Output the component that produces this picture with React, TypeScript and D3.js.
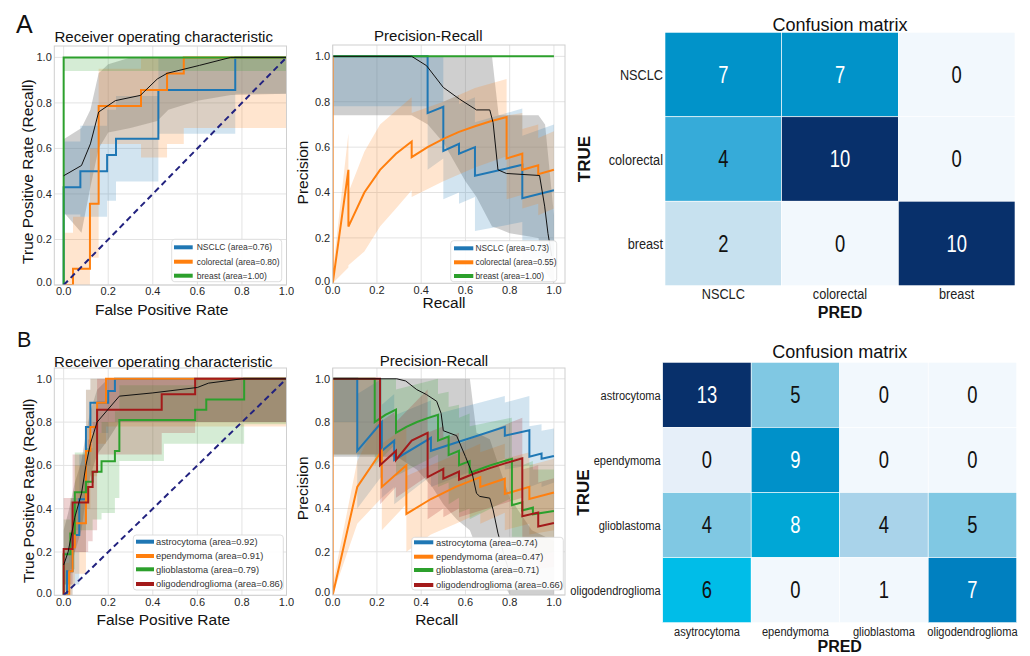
import React from 'react';
import * as d3 from 'd3';

type Pt = [number, number];
type Band = [number, number, number]; // x, lower, upper

// ---------- shared ticks ----------
const axisTicks = [0, 0.2, 0.4, 0.6, 0.8, 1.0];

// ---------- A: ROC ----------
const classesA = ['NSCLC', 'colorectal', 'breast'];
const rocAucA = [0.76, 0.8, 1.0];
const prAucA = [0.73, 0.55, 1.0];

const rocNsclc: Pt[] = [[0, 0], [0, 0.429], [0.075, 0.429], [0.075, 0.5], [0.195, 0.5], [0.195, 0.571], [0.235, 0.571], [0.235, 0.643], [0.425, 0.643], [0.425, 0.857], [0.77, 0.857], [0.77, 1], [1, 1]];
const rocColorectal: Pt[] = [[0, 0], [0.042, 0], [0.042, 0.071], [0.118, 0.071], [0.118, 0.357], [0.157, 0.357], [0.157, 0.786], [0.347, 0.786], [0.347, 0.857], [0.464, 0.857], [0.464, 0.929], [0.539, 0.929], [0.539, 1], [1, 1]];
const rocBreast: Pt[] = [[0, 0], [0, 1], [1, 1]];
const rocMeanA: Pt[] = [[0, 0.48], [0.08, 0.525], [0.12, 0.62], [0.157, 0.76], [0.232, 0.81], [0.344, 0.833], [0.42, 0.905], [0.464, 0.93], [0.61, 0.965], [0.75, 1], [1, 1]];

const rocNsclcBand: Band[] = [[0, 0.31, 0.63], [0.075, 0.3, 0.7], [0.195, 0.37, 0.77], [0.235, 0.455, 0.83], [0.425, 0.665, 1], [0.77, 0.84, 1], [1, 0.84, 1]];
const rocColorectalBand: Band[] = [[0, 0, 0.23], [0.042, 0, 0.3], [0.118, 0.12, 0.6], [0.157, 0.62, 0.95], [0.347, 0.56, 1], [0.464, 0.62, 1], [0.539, 0.69, 1], [1, 0.69, 1]];
const rocBreastBand: Band[] = [[0, 0.94, 1], [1, 0.94, 1]];
const rocMeanBandA: Band[] = [[0, 0.32, 0.64], [0.08, 0.23, 0.69], [0.12, 0.43, 0.77], [0.157, 0.6, 0.93], [0.2, 0.67, 0.97], [0.3, 0.69, 1], [0.42, 0.72, 1], [0.47, 0.77, 1], [0.6, 0.81, 1], [0.75, 0.835, 1], [1, 0.84, 1]];

// ---------- A: PR ----------
const prNsclc: Pt[] = [[0, 1], [0.429, 1], [0.429, 0.75], [0.5, 0.778], [0.5, 0.583], [0.571, 0.615], [0.571, 0.571], [0.643, 0.6], [0.643, 0.474], [0.857, 0.522], [0.857, 0.375], [1, 0.41]];
const prColorectal: Pt[] = [[0, 1], [0, 0], [0.071, 0.5], [0.071, 0.25], [0.143, 0.4], [0.214, 0.5], [0.286, 0.571], [0.357, 0.625], [0.357, 0.556], [0.429, 0.6], [0.5, 0.636], [0.571, 0.667], [0.643, 0.692], [0.714, 0.714], [0.786, 0.733], [0.786, 0.55], [0.857, 0.571], [0.857, 0.5], [0.929, 0.52], [0.929, 0.481], [1, 0.5]];
const prBreast: Pt[] = [[0, 1], [1, 1]];
const prMeanA: Pt[] = [[0, 1], [0.357, 1], [0.424, 0.959], [0.5, 0.863], [0.574, 0.811], [0.65, 0.764], [0.71, 0.764], [0.725, 0.708], [0.747, 0.5], [0.785, 0.484], [0.935, 0.475], [0.958, 0.34], [0.973, 0.22], [0.99, 0.12]];

const prNsclcBand: Band[] = [[0, 0.78, 1], [0.429, 0.78, 1], [0.429, 0.5, 1], [0.5, 0.55, 1], [0.5, 0.37, 0.8], [0.571, 0.4, 0.83], [0.571, 0.35, 0.79], [0.643, 0.38, 0.82], [0.643, 0.23, 0.71], [0.857, 0.27, 0.77], [0.857, 0.1, 0.65], [1, 0.12, 0.7]];
const prColorectalBand: Band[] = [[0, 0, 1], [0, 0, 0.05], [0.071, 0.07, 0.66], [0.071, 0.08, 0.4], [0.143, 0.14, 0.58], [0.214, 0.25, 0.7], [0.286, 0.33, 0.76], [0.357, 0.41, 0.82], [0.357, 0.38, 0.75], [0.5, 0.45, 0.8], [0.643, 0.51, 0.86], [0.786, 0.56, 0.9], [0.786, 0.37, 0.74], [0.857, 0.39, 0.75], [0.857, 0.33, 0.68], [0.929, 0.35, 0.7], [0.929, 0.3, 0.64], [1, 0.33, 0.67]];
const prBreastBand: Band[] = [[0, 1, 1], [1, 1, 1]];
const prMeanBandA: Band[] = [[0, 0.74, 1], [0.357, 0.74, 1], [0.43, 0.7, 1], [0.5, 0.62, 1], [0.6, 0.45, 1], [0.65, 0.38, 1], [0.72, 0.25, 1], [0.75, 0.24, 0.74], [0.8, 0.22, 0.74], [0.93, 0.2, 0.74], [0.96, 0.05, 0.7], [1, 0, 0.3]];

// ---------- B: ROC ----------
const classesB = ['astrocytoma', 'ependymoma', 'glioblastoma', 'oligodendroglioma'];
const rocAucB = [0.92, 0.91, 0.79, 0.86];
const prAucB = [0.74, 0.47, 0.71, 0.66];

const rocAstro: Pt[] = [[0, 0], [0.015, 0], [0.015, 0.111], [0.04, 0.111], [0.04, 0.278], [0.07, 0.278], [0.07, 0.444], [0.1, 0.444], [0.1, 0.778], [0.12, 0.778], [0.12, 0.889], [0.2, 0.889], [0.2, 0.944], [0.23, 0.944], [0.23, 1], [1, 1]];
const rocEpend: Pt[] = [[0, 0], [0.025, 0], [0.025, 0.111], [0.04, 0.111], [0.04, 0.222], [0.05, 0.222], [0.05, 0.333], [0.1, 0.333], [0.1, 0.667], [0.12, 0.667], [0.12, 0.778], [0.15, 0.778], [0.15, 0.889], [0.19, 0.889], [0.19, 1], [1, 1]];
const rocGlio: Pt[] = [[0, 0], [0, 0.19], [0.03, 0.19], [0.03, 0.286], [0.05, 0.286], [0.05, 0.476], [0.1, 0.476], [0.1, 0.524], [0.13, 0.524], [0.13, 0.571], [0.17, 0.571], [0.17, 0.619], [0.23, 0.619], [0.23, 0.667], [0.25, 0.667], [0.25, 0.81], [0.59, 0.81], [0.59, 0.857], [0.64, 0.857], [0.64, 0.905], [0.81, 0.905], [0.81, 1], [1, 1]];
const rocOligo: Pt[] = [[0, 0], [0, 0.214], [0.04, 0.214], [0.04, 0.429], [0.11, 0.429], [0.11, 0.5], [0.13, 0.5], [0.13, 0.571], [0.15, 0.571], [0.15, 0.857], [0.44, 0.857], [0.44, 0.929], [0.59, 0.929], [0.59, 1], [1, 1]];
const rocMeanB: Pt[] = [[0, 0.14], [0.02, 0.2], [0.05, 0.36], [0.08, 0.47], [0.1, 0.6], [0.12, 0.7], [0.15, 0.8], [0.2, 0.86], [0.25, 0.92], [0.4, 0.935], [0.6, 0.96], [0.65, 0.98], [0.8, 1], [1, 1]];

const rocAstroBand: Band[] = [[0, 0, 0.2], [0.04, 0.05, 0.45], [0.07, 0.2, 0.65], [0.1, 0.6, 0.95], [0.12, 0.75, 1], [0.2, 0.8, 1], [1, 0.8, 1]];
const rocEpendBand: Band[] = [[0, 0, 0.15], [0.025, 0, 0.3], [0.04, 0.05, 0.4], [0.05, 0.1, 0.6], [0.1, 0.4, 0.95], [0.12, 0.55, 1], [0.15, 0.7, 1], [0.19, 0.78, 1], [1, 0.78, 1]];
const rocGlioBand: Band[] = [[0, 0.05, 0.35], [0.03, 0.12, 0.45], [0.05, 0.3, 0.66], [0.1, 0.3, 0.68], [0.13, 0.35, 0.75], [0.17, 0.38, 0.8], [0.23, 0.45, 0.85], [0.25, 0.62, 0.97], [0.45, 0.7, 0.97], [0.59, 0.7, 1], [0.81, 0.79, 1], [1, 0.79, 1]];
const rocOligoBand: Band[] = [[0, 0.05, 0.45], [0.04, 0.2, 0.65], [0.11, 0.25, 0.72], [0.13, 0.3, 0.8], [0.15, 0.65, 1], [0.44, 0.75, 1], [0.59, 0.8, 1], [1, 0.8, 1]];
const rocMeanBandB: Band[] = [[0, 0, 0.3], [0.02, 0.05, 0.38], [0.05, 0.2, 0.52], [0.08, 0.3, 0.62], [0.1, 0.45, 0.75], [0.12, 0.55, 0.85], [0.15, 0.65, 0.95], [0.2, 0.72, 1], [0.25, 0.8, 1], [1, 0.8, 1]];

// ---------- B: PR ----------
const prAstro: Pt[] = [[0, 1], [0.111, 1], [0.111, 0.667], [0.222, 0.8], [0.222, 0.667], [0.278, 0.714], [0.278, 0.625], [0.444, 0.727], [0.444, 0.667], [0.778, 0.778], [0.778, 0.737], [0.889, 0.762], [0.889, 0.64], [0.944, 0.654], [0.944, 0.63], [1, 0.643]];
const prEpend: Pt[] = [[0, 1], [0, 0], [0.111, 0.5], [0.222, 0.667], [0.222, 0.5], [0.333, 0.6], [0.333, 0.375], [0.444, 0.444], [0.556, 0.5], [0.667, 0.545], [0.667, 0.5], [0.778, 0.538], [0.778, 0.467], [0.889, 0.5], [0.889, 0.444], [1, 0.474]];
const prGlio: Pt[] = [[0, 1], [0.19, 1], [0.19, 0.8], [0.238, 0.833], [0.286, 0.857], [0.286, 0.75], [0.333, 0.778], [0.381, 0.8], [0.429, 0.818], [0.476, 0.833], [0.476, 0.714], [0.524, 0.733], [0.524, 0.647], [0.571, 0.667], [0.571, 0.6], [0.619, 0.619], [0.619, 0.565], [0.667, 0.583], [0.714, 0.6], [0.762, 0.615], [0.81, 0.63], [0.81, 0.415], [0.857, 0.429], [0.857, 0.391], [0.905, 0.404], [0.905, 0.373], [1, 0.389]];
const prOligo: Pt[] = [[0, 1], [0.214, 1], [0.214, 0.6], [0.286, 0.667], [0.286, 0.625], [0.357, 0.714], [0.429, 0.75], [0.429, 0.545], [0.5, 0.583], [0.5, 0.538], [0.571, 0.571], [0.571, 0.533], [0.643, 0.563], [0.714, 0.588], [0.786, 0.611], [0.857, 0.632], [0.857, 0.364], [0.929, 0.382], [0.929, 0.317], [1, 0.333]];
const prMeanB: Pt[] = [[0, 1], [0.29, 1], [0.33, 0.99], [0.38, 0.95], [0.424, 0.927], [0.47, 0.896], [0.49, 0.84], [0.5, 0.76], [0.56, 0.737], [0.6, 0.64], [0.63, 0.564], [0.65, 0.47], [0.665, 0.456], [0.71, 0.448], [0.725, 0.394], [0.747, 0.286], [0.77, 0.2], [0.8, 0.1]];

const prAstroBand: Band[] = [[0, 0.8, 1], [0.111, 0.8, 1], [0.111, 0.4, 0.93], [0.222, 0.55, 1], [0.222, 0.45, 0.88], [0.278, 0.5, 0.93], [0.278, 0.42, 0.83], [0.444, 0.55, 0.9], [0.444, 0.5, 0.83], [0.778, 0.63, 0.92], [0.778, 0.58, 0.89], [0.889, 0.6, 0.92], [0.889, 0.5, 0.78], [0.944, 0.52, 0.79], [0.944, 0.5, 0.76], [1, 0.52, 0.77]];
const prEpendBand: Band[] = [[0, 0, 1], [0, 0, 0.05], [0.111, 0.33, 0.62], [0.222, 0.45, 0.85], [0.222, 0.3, 0.7], [0.333, 0.42, 0.78], [0.333, 0.2, 0.55], [0.444, 0.28, 0.6], [0.556, 0.33, 0.65], [0.667, 0.38, 0.7], [0.667, 0.33, 0.66], [0.778, 0.38, 0.7], [0.778, 0.3, 0.63], [0.889, 0.33, 0.66], [0.889, 0.28, 0.6], [1, 0.3, 0.63]];
const prGlioBand: Band[] = [[0, 0.65, 1], [0.19, 0.65, 1], [0.19, 0.6, 1], [0.286, 0.7, 1], [0.286, 0.55, 0.95], [0.476, 0.65, 1], [0.476, 0.5, 0.93], [0.524, 0.52, 0.94], [0.524, 0.42, 0.87], [0.571, 0.45, 0.88], [0.571, 0.38, 0.82], [0.619, 0.4, 0.84], [0.619, 0.35, 0.78], [0.81, 0.45, 0.82], [0.81, 0.2, 0.63], [0.857, 0.22, 0.64], [0.857, 0.18, 0.6], [0.905, 0.19, 0.62], [0.905, 0.17, 0.58], [1, 0.2, 0.58]];
const prOligoBand: Band[] = [[0, 0.65, 1], [0.214, 0.65, 1], [0.214, 0.42, 0.8], [0.286, 0.5, 0.85], [0.286, 0.45, 0.8], [0.429, 0.55, 0.95], [0.429, 0.35, 0.75], [0.5, 0.4, 0.78], [0.5, 0.36, 0.72], [0.571, 0.4, 0.75], [0.571, 0.36, 0.7], [0.857, 0.45, 0.82], [0.857, 0.15, 0.58], [0.929, 0.17, 0.6], [0.929, 0.12, 0.52], [1, 0.13, 0.54]];
const prMeanBandB: Band[] = [[0, 0.64, 1], [0.29, 0.64, 1], [0.38, 0.58, 1], [0.45, 0.5, 1], [0.5, 0.42, 1], [0.56, 0.35, 1], [0.62, 0.3, 1], [0.65, 0.22, 0.75], [0.71, 0.2, 0.72], [0.75, 0.1, 0.6], [0.8, 0, 0.45], [0.9, 0, 0.3], [1, 0, 0.25]];

// ---------- confusion matrices ----------
const cmRowsA = ['NSCLC', 'colorectal', 'breast'];
const cmColsA = ['NSCLC', 'colorectal', 'breast'];
const cmValuesA = [[7, 7, 0], [4, 10, 0], [2, 0, 10]];

const cmRowsB = ['astrocytoma', 'ependymoma', 'glioblastoma', 'oligodendroglioma'];
const cmColsB = ['asytrocytoma', 'ependymoma', 'glioblastoma', 'oligodendroglioma'];
const cmValuesB = [[13, 5, 0, 0], [0, 9, 0, 0], [4, 8, 4, 5], [6, 0, 1, 7]];

// cell shading as it appears in the figure
const cmFillA = [
  ['#0193c9', '#0193c9', '#f2f8fd'],
  ['#36abd9', '#08306b', '#f2f8fd'],
  ['#c7e1ef', '#f2f8fd', '#08306b'],
];
const cmFillB = [
  ['#08306b', '#80c8e3', '#f2f8fd', '#f2f8fd'],
  ['#e6eff9', '#0091c9', '#f2f8fd', '#f2f8fd'],
  ['#80c8e3', '#00a7d6', '#a9d3ea', '#80c8e3'],
  ['#00bde8', '#f2f8fd', '#f2f8fd', '#0080c0'],
];

const COLORS = ['#1f77b4', '#ff7f0e', '#2ca02c', '#a31a1a'];
const FONT = "'Liberation Sans', Arial, sans-serif";
const TXT = '#262626';

interface Series { name: string; area: number; line: Pt[]; band: Band[]; }

interface PanelProps {
  id: string;
  l: number; r: number; t: number; b: number;
  xDomain: [number, number];
  step: boolean;
  diagonal: boolean;
  title: string; titleX: number; titleY: number;
  xLabel: string; xLabelX: number; xLabelY: number;
  yLabel: string; yLabelX: number; yLabelY: number;
  tickY: number;
  series: Series[];
  mean: Pt[]; meanBand: Band[];
  legend: { x: number; y: number; w: number; h: number; rows: number[]; hx0: number; hx1: number; tx: number; fs: number };
}

function CurvePanel(p: PanelProps) {
  const x = d3.scaleLinear().domain(p.xDomain).range([p.l, p.r]);
  const y = d3.scaleLinear().domain([0, 1.05]).range([p.b, p.t]);
  const line = d3.line<Pt>().x(d => x(d[0])).y(d => y(d[1]));
  const bandArea = d3.area<Band>().x(d => x(d[0])).y0(d => y(d[1])).y1(d => y(d[2]));
  if (p.step) bandArea.curve(d3.curveStepAfter);
  const meanArea = d3.area<Band>().x(d => x(d[0])).y0(d => y(d[1])).y1(d => y(d[2]));
  const fmt = d3.format('.1f');
  const clip = `clip-${p.id}`;
  const lg = p.legend;

  return (
    <g>
      <defs>
        <clipPath id={clip}>
          <rect x={p.l} y={p.t} width={p.r - p.l} height={p.b - p.t} />
        </clipPath>
      </defs>
      <rect x={p.l} y={p.t} width={p.r - p.l} height={p.b - p.t} fill="#fff" />
      {axisTicks.map(v => (
        <g key={`g${v}`}>
          <line x1={x(v)} x2={x(v)} y1={p.t} y2={p.b} stroke="#e3e3e3" strokeWidth={1} />
          <line x1={p.l} x2={p.r} y1={y(v)} y2={y(v)} stroke="#e3e3e3" strokeWidth={1} />
        </g>
      ))}
      <g clipPath={`url(#${clip})`}>
        <path d={meanArea(p.meanBand) || ''} fill="#808080" fillOpacity={0.38} />
        {p.series.map((s, i) => (
          <path key={`b${i}`} d={bandArea(s.band) || ''} fill={COLORS[i]} fillOpacity={0.2} />
        ))}
        {p.series.map((s, i) => (
          <path key={`l${i}`} d={line(s.line) || ''} fill="none" stroke={COLORS[i]} strokeWidth={2} />
        ))}
        <path d={line(p.mean) || ''} fill="none" stroke="#111" strokeWidth={1} />
        {p.diagonal && (
          <line x1={x(0)} y1={y(0)} x2={x(1)} y2={y(1)} stroke="#22227f" strokeWidth={2} strokeDasharray="6,4" />
        )}
      </g>
      <rect x={p.l} y={p.t} width={p.r - p.l} height={p.b - p.t} fill="none" stroke="#cfcfcf" strokeWidth={1} />
      {axisTicks.map(v => (
        <text key={`xt${v}`} x={x(v)} y={p.tickY} textAnchor="middle" fontSize={11} fill={TXT} fontFamily={FONT}>{fmt(v)}</text>
      ))}
      {axisTicks.map(v => (
        <text key={`yt${v}`} x={p.l - 2.5} y={y(v) - (v === 0 ? 2.5 : 0)} dy="0.36em" textAnchor="end" fontSize={11} fill={TXT} fontFamily={FONT}>{fmt(v)}</text>
      ))}
      <text x={p.titleX} y={p.titleY} textAnchor="middle" fontSize={15} fill="#111" fontFamily={FONT}>{p.title}</text>
      <text x={p.xLabelX} y={p.xLabelY} textAnchor="middle" fontSize={15.5} fill="#111" fontFamily={FONT}>{p.xLabel}</text>
      <text transform={`translate(${p.yLabelX},${p.yLabelY}) rotate(-90)`} textAnchor="middle" fontSize={15.5} fill="#111" fontFamily={FONT}>{p.yLabel}</text>
      <rect x={lg.x} y={lg.y} width={lg.w} height={lg.h} rx={3} fill="#fff" fillOpacity={0.92} stroke="#d6d6d6" strokeWidth={0.8} />
      {p.series.map((s, i) => (
        <g key={`lg${i}`}>
          <line x1={lg.hx0} x2={lg.hx1} y1={lg.rows[i]} y2={lg.rows[i]} stroke={COLORS[i]} strokeWidth={4} />
          <text x={lg.tx} y={lg.rows[i]} dy="0.35em" fontSize={lg.fs} fill="#333" fontFamily={FONT}>
            {`${s.name} (area=${s.area.toFixed(2)})`}
          </text>
        </g>
      ))}
    </g>
  );
}

// condensed text (the matrix labels use a narrow face)
function NarrowText({ x, y, anchor, size, fill, children, sx = 0.82 }: {
  x: number; y: number; anchor: string; size: number; fill: string; children: React.ReactNode; sx?: number;
}) {
  return (
    <text transform={`translate(${x},${y}) scale(${sx},1)`} dy="0.36em" textAnchor={anchor}
      fontSize={size} fill={fill} fontFamily={FONT}>{children}</text>
  );
}

interface CMProps {
  rows: string[]; cols: string[]; values: number[][]; fills: string[][];
  l: number; r: number; t: number; b: number;
  numSize: number; labelSize: number;
  title: string; titleY: number;
  colLabelY: number; predY: number; trueX: number;
}

function ConfusionMatrix(p: CMProps) {
  const xb = d3.scaleBand<number>().domain(d3.range(p.cols.length)).range([p.l, p.r]);
  const yb = d3.scaleBand<number>().domain(d3.range(p.rows.length)).range([p.t, p.b]);
  const cx = (p.l + p.r) / 2;
  return (
    <g>
      {p.values.map((row, i) => row.map((v, j) => {
        const fill = p.fills[i][j];
        const dark = d3.hsl(fill).l < 0.44;
        return (
          <g key={`c${i}-${j}`}>
            <rect x={xb(j)} y={yb(i)} width={xb.bandwidth()} height={yb.bandwidth()} fill={fill} stroke="#fff" strokeWidth={0.6} />
            <NarrowText x={(xb(j) || 0) + xb.bandwidth() / 2} y={(yb(i) || 0) + yb.bandwidth() / 2} anchor="middle"
              size={p.numSize} fill={dark ? '#fff' : '#111'} sx={0.8}>{v}</NarrowText>
          </g>
        );
      }))}
      {p.rows.map((name, i) => (
        <NarrowText key={`r${i}`} x={p.l - 2} y={(yb(i) || 0) + yb.bandwidth() / 2} anchor="end"
          size={p.labelSize} fill="#222">{name}</NarrowText>
      ))}
      {p.cols.map((name, j) => (
        <NarrowText key={`k${j}`} x={(xb(j) || 0) + xb.bandwidth() / 2} y={p.colLabelY} anchor="middle"
          size={p.labelSize} fill="#222">{name}</NarrowText>
      ))}
      <text x={cx} y={p.titleY} textAnchor="middle" fontSize={18} fill="#111" fontFamily={FONT}>{p.title}</text>
      <text x={cx} y={p.predY} textAnchor="middle" fontSize={16} fontWeight="bold" fill="#111" fontFamily={FONT}>PRED</text>
      <text transform={`translate(${p.trueX},${(p.t + p.b) / 2}) rotate(-90)`} dy="0.35em" textAnchor="middle" fontSize={17}
        fontWeight="bold" fill="#111" fontFamily={FONT}>TRUE</text>
    </g>
  );
}

function mkSeries(names: string[], areas: number[], lines: Pt[][], bands: Band[][]): Series[] {
  return names.map((name, i) => ({ name, area: areas[i], line: lines[i], band: bands[i] }));
}

export default function App() {
  const rocA = mkSeries(classesA, rocAucA, [rocNsclc, rocColorectal, rocBreast], [rocNsclcBand, rocColorectalBand, rocBreastBand]);
  const prA = mkSeries(classesA, prAucA, [prNsclc, prColorectal, prBreast], [prNsclcBand, prColorectalBand, prBreastBand]);
  const rocB = mkSeries(classesB, rocAucB, [rocAstro, rocEpend, rocGlio, rocOligo], [rocAstroBand, rocEpendBand, rocGlioBand, rocOligoBand]);
  const prB = mkSeries(classesB, prAucB, [prAstro, prEpend, prGlio, prOligo], [prAstroBand, prEpendBand, prGlioBand, prOligoBand]);

  return (
    <svg width={1030} height={656} style={{ position: 'absolute', left: 0, top: 0, background: '#fff' }}>
      <rect width={1030} height={656} fill="#fff" />
      <text x={16} y={33} fontSize={25} fill="#111" fontFamily={FONT}>A</text>
      <text x={17} y={347} fontSize={21.5} fill="#111" fontFamily={FONT}>B</text>

      <CurvePanel id="aroc" l={54.3} r={286.5} t={46} b={285} xDomain={[-0.042, 1]} step diagonal
        title="Receiver operating characteristic" titleX={163.7} titleY={42.3}
        xLabel="False Positive Rate" xLabelX={161.7} xLabelY={315}
        yLabel="True Positive Rate (Recall)" yLabelX={33.3} yLabelY={171.6} tickY={295}
        series={rocA} mean={rocMeanA} meanBand={rocMeanBandA}
        legend={{ x: 171.7, y: 239.3, w: 110, h: 42.4, rows: [247.3, 261.7, 275.7], hx0: 174, hx1: 192.7, tx: 196.7, fs: 8.5 }} />

      <CurvePanel id="apr" l={332.7} r={565} t={45} b={283.3} xDomain={[0, 1.05]} step={false} diagonal={false}
        title="Precision-Recall" titleX={428.3} titleY={40.7}
        xLabel="Recall" xLabelX={444} xLabelY={308}
        yLabel="Precision" yLabelX={308.3} yLabelY={172.5} tickY={293.5}
        series={prA} mean={prMeanA} meanBand={prMeanBandA}
        legend={{ x: 450.7, y: 240.7, w: 106, h: 41, rows: [248.3, 262.3, 276], hx0: 454, hx1: 473.3, tx: 475.5, fs: 8.3 }} />

      <CurvePanel id="broc" l={54.3} r={286.5} t={368} b={595.3} xDomain={[-0.042, 1]} step diagonal
        title="Receiver operating characteristic" titleX={163.3} titleY={366.5}
        xLabel="False Positive Rate" xLabelX={163.3} xLabelY={625}
        yLabel="True Positive Rate (Recall)" yLabelX={34.3} yLabelY={490.8} tickY={606}
        series={rocB} mean={rocMeanB} meanBand={rocMeanBandB}
        legend={{ x: 133.3, y: 535, w: 150, h: 55, rows: [541.7, 556, 569.3, 584], hx0: 136, hx1: 154, tx: 156, fs: 9.3 }} />

      <CurvePanel id="bpr" l={332.7} r={565} t={368} b={595} xDomain={[0, 1.05]} step={false} diagonal={false}
        title="Precision-Recall" titleX={434} titleY={366}
        xLabel="Recall" xLabelX={436.7} xLabelY={625}
        yLabel="Precision" yLabelX={307.7} yLabelY={488.3} tickY={606}
        series={prB} mean={prMeanB} meanBand={prMeanBandB}
        legend={{ x: 411.7, y: 537.3, w: 151.6, h: 52.7, rows: [542.3, 556.7, 570, 585], hx0: 414, hx1: 433.3, tx: 436, fs: 9.3 }} />

      <ConfusionMatrix rows={cmRowsA} cols={cmColsA} values={cmValuesA} fills={cmFillA}
        l={665} r={1015} t={32.3} b={285.7} numSize={23} labelSize={15.5}
        title="Confusion matrix" titleY={30.5} colLabelY={293.5} predY={318} trueX={584} />

      <ConfusionMatrix rows={cmRowsB} cols={cmColsB} values={cmValuesB} fills={cmFillB}
        l={662.7} r={1016.7} t={362.3} b={622.7} numSize={23} labelSize={13.5}
        title="Confusion matrix" titleY={358.3} colLabelY={631.5} predY={652} trueX={583} />
    </svg>
  );
}
